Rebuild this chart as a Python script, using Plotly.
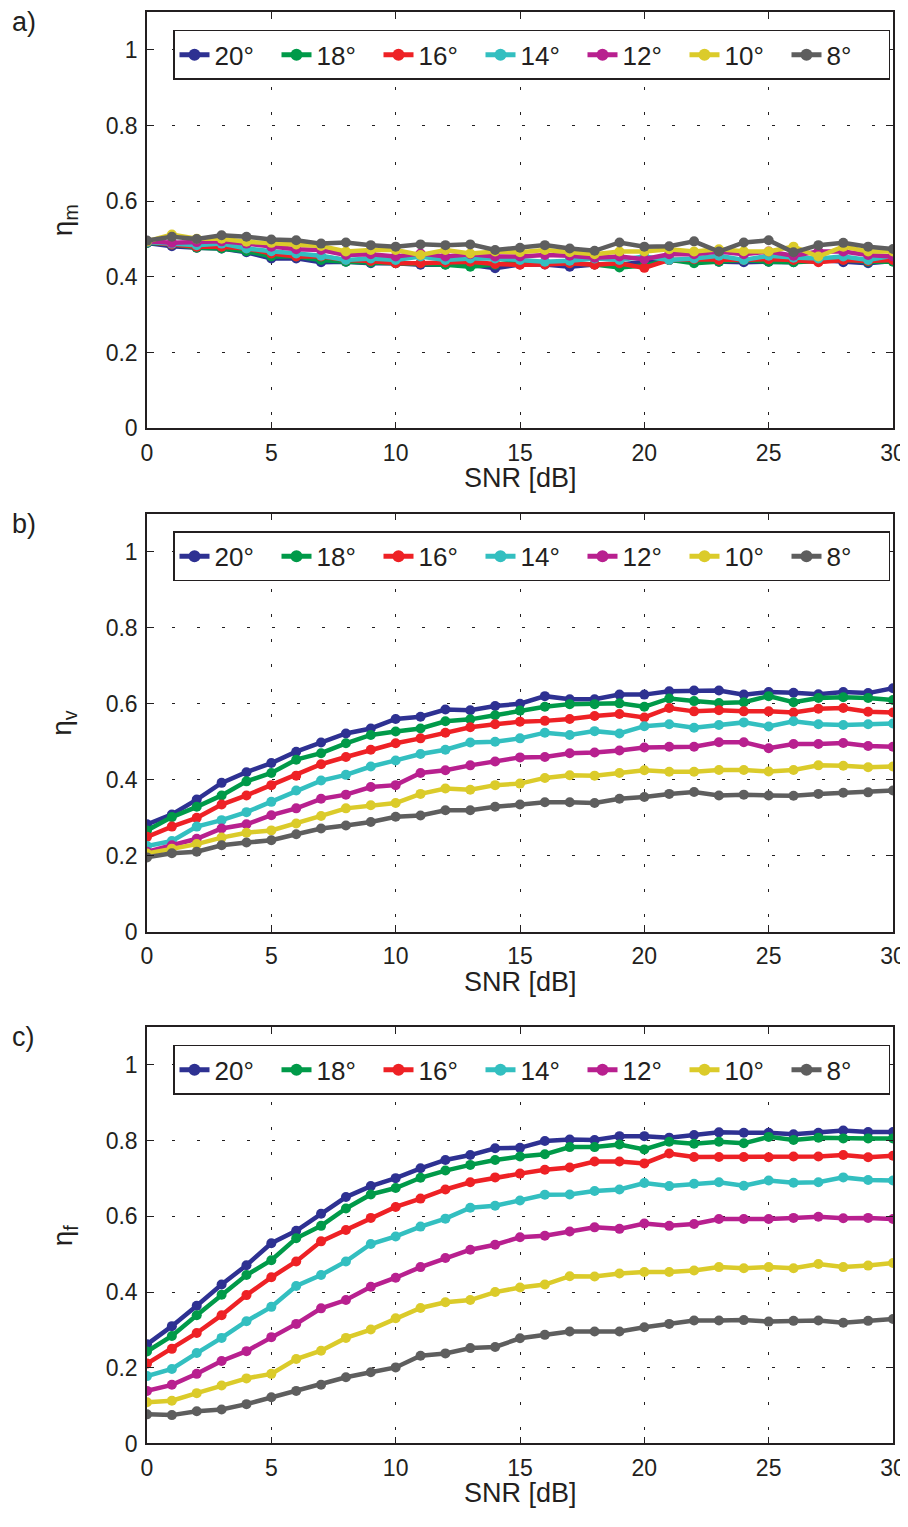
import plotly.graph_objects as go

snr = list(range(31))
angles = ["20°", "18°", "16°", "14°", "12°", "10°", "8°"]
colors = ["#2e3192", "#009a49", "#ee2125", "#33bfc0", "#b8208f", "#dbcb2a", "#5e5e5e"]

# panel a) eta_m
eta_m_20 = [0.490,0.481,0.477,0.475,0.465,0.449,0.449,0.439,0.440,0.436,0.436,0.432,0.433,0.432,0.423,0.433,0.433,0.427,0.433,0.432,0.440,0.445,0.442,0.440,0.439,0.440,0.439,0.445,0.439,0.436,0.442]
eta_m_18 = [0.490,0.486,0.477,0.475,0.468,0.454,0.454,0.445,0.440,0.438,0.436,0.436,0.432,0.427,0.432,0.439,0.436,0.436,0.433,0.425,0.430,0.445,0.436,0.440,0.445,0.440,0.439,0.442,0.445,0.440,0.440]
eta_m_16 = [0.492,0.486,0.480,0.480,0.475,0.462,0.454,0.454,0.445,0.442,0.436,0.436,0.438,0.440,0.434,0.432,0.433,0.436,0.432,0.436,0.424,0.445,0.447,0.445,0.445,0.447,0.445,0.439,0.445,0.442,0.445]
eta_m_14 = [0.492,0.488,0.484,0.488,0.475,0.468,0.462,0.456,0.445,0.449,0.445,0.454,0.445,0.449,0.449,0.445,0.440,0.443,0.449,0.445,0.454,0.445,0.449,0.456,0.445,0.456,0.451,0.449,0.454,0.445,0.456]
eta_m_12 = [0.494,0.490,0.492,0.494,0.488,0.480,0.473,0.471,0.458,0.460,0.454,0.462,0.454,0.460,0.454,0.454,0.458,0.456,0.451,0.454,0.447,0.460,0.460,0.467,0.460,0.467,0.456,0.467,0.467,0.458,0.454]
eta_m_10 = [0.494,0.512,0.501,0.501,0.493,0.490,0.486,0.482,0.467,0.471,0.471,0.458,0.471,0.462,0.467,0.465,0.471,0.465,0.460,0.467,0.467,0.473,0.467,0.473,0.468,0.467,0.480,0.454,0.480,0.467,0.467]
eta_m_8 = [0.496,0.506,0.500,0.510,0.506,0.499,0.497,0.488,0.491,0.484,0.480,0.486,0.484,0.486,0.471,0.477,0.484,0.475,0.469,0.491,0.480,0.481,0.494,0.467,0.491,0.497,0.465,0.484,0.490,0.480,0.474]

# panel b) eta_v
eta_v_20 = [0.283,0.309,0.348,0.392,0.420,0.444,0.474,0.498,0.522,0.535,0.560,0.566,0.585,0.583,0.594,0.600,0.620,0.612,0.612,0.624,0.624,0.633,0.635,0.635,0.624,0.631,0.629,0.625,0.631,0.628,0.641]
eta_v_18 = [0.267,0.302,0.329,0.359,0.396,0.418,0.453,0.470,0.496,0.518,0.527,0.535,0.554,0.559,0.570,0.582,0.592,0.599,0.599,0.601,0.592,0.614,0.607,0.602,0.604,0.620,0.604,0.615,0.617,0.615,0.610]
eta_v_16 = [0.250,0.277,0.300,0.335,0.359,0.386,0.411,0.441,0.460,0.479,0.496,0.509,0.524,0.538,0.546,0.553,0.555,0.560,0.568,0.573,0.564,0.589,0.580,0.583,0.580,0.580,0.577,0.587,0.589,0.579,0.577]
eta_v_14 = [0.226,0.239,0.277,0.294,0.315,0.342,0.372,0.398,0.413,0.435,0.451,0.468,0.479,0.498,0.500,0.509,0.524,0.518,0.528,0.522,0.541,0.546,0.537,0.544,0.551,0.540,0.554,0.546,0.544,0.546,0.548]
eta_v_12 = [0.211,0.228,0.245,0.272,0.283,0.307,0.325,0.350,0.361,0.381,0.386,0.418,0.425,0.438,0.448,0.459,0.460,0.470,0.472,0.477,0.485,0.487,0.487,0.499,0.499,0.483,0.494,0.494,0.497,0.489,0.487]
eta_v_10 = [0.206,0.219,0.231,0.248,0.261,0.267,0.285,0.305,0.325,0.333,0.339,0.363,0.377,0.374,0.386,0.390,0.405,0.412,0.411,0.418,0.425,0.421,0.421,0.426,0.426,0.422,0.426,0.438,0.437,0.433,0.435]
eta_v_8 = [0.196,0.207,0.211,0.228,0.235,0.241,0.257,0.272,0.280,0.289,0.303,0.306,0.320,0.320,0.329,0.335,0.341,0.341,0.339,0.350,0.355,0.363,0.368,0.359,0.361,0.359,0.358,0.363,0.366,0.367,0.372]

# panel c) eta_f
eta_f_20 = [0.262,0.310,0.364,0.420,0.471,0.529,0.562,0.607,0.651,0.680,0.701,0.727,0.749,0.762,0.780,0.781,0.799,0.803,0.802,0.812,0.812,0.808,0.815,0.822,0.821,0.821,0.817,0.821,0.827,0.823,0.823]
eta_f_18 = [0.243,0.284,0.339,0.393,0.445,0.484,0.542,0.575,0.621,0.658,0.675,0.702,0.721,0.736,0.749,0.758,0.764,0.783,0.783,0.790,0.777,0.797,0.792,0.797,0.793,0.810,0.802,0.808,0.806,0.806,0.806]
eta_f_16 = [0.211,0.250,0.292,0.339,0.392,0.439,0.481,0.534,0.564,0.596,0.625,0.647,0.671,0.690,0.703,0.713,0.723,0.729,0.745,0.745,0.740,0.766,0.757,0.757,0.757,0.756,0.758,0.758,0.762,0.756,0.760]
eta_f_14 = [0.178,0.197,0.239,0.279,0.323,0.361,0.416,0.445,0.481,0.527,0.547,0.573,0.594,0.623,0.628,0.642,0.657,0.658,0.667,0.671,0.688,0.680,0.686,0.690,0.681,0.695,0.689,0.690,0.703,0.696,0.695]
eta_f_12 = [0.139,0.155,0.184,0.218,0.244,0.281,0.316,0.357,0.379,0.414,0.438,0.466,0.490,0.512,0.525,0.545,0.549,0.560,0.571,0.567,0.581,0.575,0.580,0.593,0.593,0.593,0.596,0.599,0.595,0.596,0.593]
eta_f_10 = [0.109,0.113,0.133,0.153,0.172,0.184,0.223,0.245,0.279,0.301,0.331,0.358,0.373,0.379,0.400,0.412,0.420,0.442,0.441,0.449,0.453,0.453,0.457,0.466,0.463,0.466,0.463,0.474,0.466,0.470,0.477]
eta_f_8 = [0.077,0.075,0.085,0.090,0.104,0.122,0.139,0.155,0.175,0.188,0.201,0.232,0.238,0.252,0.255,0.278,0.287,0.296,0.296,0.296,0.307,0.316,0.325,0.325,0.326,0.322,0.324,0.325,0.319,0.324,0.329]

x_ticks = [0, 5, 10, 15, 20, 25, 30]
x_ticktext = ["0", "5", "10", "15", "20", "25", "30"]
y_ticks = [0, 0.2, 0.4, 0.6, 0.8, 1.0]
y_ticktext = ["0", "0.2", "0.4", "0.6", "0.8", "1"]
panel_labels = ["a)", "b)", "c)"]
y_titles = ["η<sub>m</sub>", "η<sub>v</sub>", "η<sub>f</sub>"]
x_title = "SNR [dB]"

panels = [
    [eta_m_20, eta_m_18, eta_m_16, eta_m_14, eta_m_12, eta_m_10, eta_m_8],
    [eta_v_20, eta_v_18, eta_v_16, eta_v_14, eta_v_12, eta_v_10, eta_v_8],
    [eta_f_20, eta_f_18, eta_f_16, eta_f_14, eta_f_12, eta_f_10, eta_f_8],
]

# page body has an 8px margin; work in page pixels and offset
OFF = 8
W, H = 908 - OFF, 1527 - 2 * OFF - 6
ML, MR = 147 - OFF, 908 - 893
PW = W - ML - MR
panel_px = [(12, 432), (518, 940), (1036, 1456)]   # page pixels (top, bottom)
TXT = "#231f20"
FONT = "Liberation Sans, Arial, Helvetica, sans-serif"

def py(px):
    return 1 - (px - OFF) / H

def pxx(px):
    return (px - OFF - ML) / PW

fig = go.Figure()
legend_names = ["legend", "legend2", "legend3"]
for p, series in enumerate(panels):
    xa = "x" if p == 0 else f"x{p+1}"
    ya = "y" if p == 0 else f"y{p+1}"
    for i, ys in enumerate(series):
        fig.add_trace(go.Scatter(
            x=snr, y=ys, mode="lines+markers", name=angles[i],
            line=dict(color=colors[i], width=4.5),
            marker=dict(color=colors[i], size=10),
            xaxis=xa, yaxis=ya, legend=legend_names[p],
        ))

layout = dict(
    width=W, height=H,
    margin=dict(l=ML, r=MR, t=0, b=0),
    paper_bgcolor="white", plot_bgcolor="white",
    font=dict(family=FONT, color=TXT),
    annotations=[],
)
for p, (top, bot) in enumerate(panel_px):
    sfx = "" if p == 0 else str(p + 1)
    ax_common = dict(
        showline=True, linewidth=1.5, linecolor=TXT, mirror="ticks",
        ticks="inside", ticklen=7, tickwidth=1, tickcolor=TXT,
        showgrid=True, gridcolor=TXT, gridwidth=1, griddash="3px,22px",
        zeroline=False, tickfont=dict(size=23, color=TXT, family=FONT),
    )
    layout["xaxis" + sfx] = dict(
        domain=[0, 1], anchor="y" + sfx, range=[0, 30], ticklabelstandoff=3,
        tickmode="array", tickvals=x_ticks, ticktext=x_ticktext, **ax_common)
    layout["yaxis" + sfx] = dict(
        domain=[py(bot), py(top)], anchor="x" + sfx, range=[0, 1.1], ticklabelstandoff=3,
        tickmode="array", tickvals=y_ticks, ticktext=y_ticktext, **ax_common)
    layout[legend_names[p]] = dict(
        x=pxx(173), y=py(top + 18), xanchor="left", yanchor="top",
        orientation="h", bgcolor="white", bordercolor=TXT, borderwidth=1.5,
        font=dict(size=26, color=TXT, family=FONT),
        entrywidth=57, entrywidthmode="pixels",
        itemsizing="constant",
    )
    layout["annotations"].append(dict(
        text=panel_labels[p], xref="paper", yref="paper",
        x=pxx(10), y=py(top - 7), xanchor="left", yanchor="top",
        showarrow=False, font=dict(size=27, color=TXT, family=FONT)))
    layout["annotations"].append(dict(
        text=y_titles[p], xref="paper", yref="paper", textangle=-90,
        x=pxx(64), y=py((top + bot) / 2), xanchor="center", yanchor="middle",
        showarrow=False, font=dict(size=28, color=TXT, family=FONT)))
    layout["annotations"].append(dict(
        text=x_title, xref="paper", yref="paper",
        x=0.5, y=py(bot + 50), xanchor="center", yanchor="middle",
        showarrow=False, font=dict(size=27, color=TXT, family=FONT)))

fig.update_layout(**layout)
fig.write_html("out.html")
